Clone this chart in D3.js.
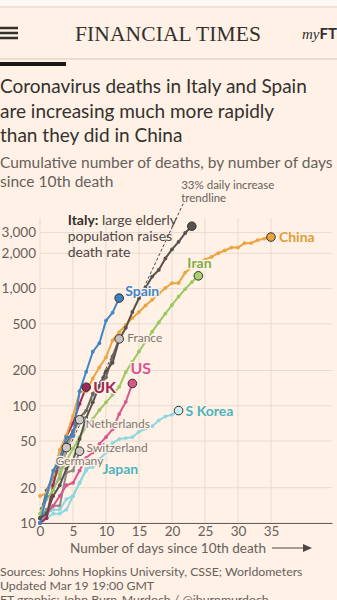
<!DOCTYPE html>
<html>
<head>
<meta charset="utf-8">
<script src="https://cdn.jsdelivr.net/npm/d3@7"></script>
<style>
  html, body { margin: 0; padding: 0; background: #fff1e5; }
  svg { display: block; }
</style>
</head>
<body>
<svg id="chart" width="337" height="600"></svg>
<script>
// Cumulative deaths, indexed by days since 10th death
const italyDeaths = [11, 12, 17, 21, 29, 34, 52, 79, 107, 148, 197, 233, 366, 463, 631, 827, 1016, 1266, 1441, 1809, 2158, 2503, 2978, 3405];
const spainDeaths = [10, 17, 28, 35, 54, 55, 133, 195, 289, 342, 533, 623, 830];
const chinaDeaths = [17, 18, 26, 42, 56, 82, 131, 133, 171, 213, 259, 361, 425, 490, 562, 632, 717, 804, 904, 1011, 1111, 1116, 1368, 1520, 1662, 1765, 1863, 2002, 2114, 2236, 2236, 2441, 2443, 2593, 2663, 2750];
const iranDeaths = [12, 16, 19, 26, 34, 43, 54, 66, 77, 92, 107, 124, 145, 194, 237, 291, 354, 429, 514, 611, 724, 853, 988, 1135, 1284];
const franceDeaths = [11, 19, 25, 33, 48, 61, 79, 91, 127, 148, 175, 264, 372];
const ukDeaths = [10, 11, 21, 35, 55, 71, 104, 144];
const usDeaths = [11, 12, 14, 17, 21, 22, 28, 36, 40, 47, 54, 63, 85, 108, 155];
const skoreaDeaths = [11, 12, 13, 13, 16, 17, 22, 28, 32, 35, 40, 48, 52, 53, 54, 60, 64, 67, 75, 81, 84, 91];
const japanDeaths = [10, 11, 12, 12, 13, 17, 22, 29, 30, 33];
const netherlandsDeaths = [10, 12, 20, 24, 43, 58, 76];
const switzerlandDeaths = [11, 13, 14, 14, 27, 28, 41];
const germanyDeaths = [11, 17, 24, 28, 44];

// 33% daily increase trendline, start and end
const trendDays = [0, 21.7];
const trendValues = [13, 5300];

const xTicks = [0, 5, 10, 15, 20, 25, 30, 35];
const yTicks = [10, 20, 50, 100, 200, 500, 1000, 2000, 3000];

const series = [
	{ name: "Germany", values: germanyDeaths, line: "#bcb5af", dot: "#cfc9c3", label: "#7d7772", dx: -11, dy: 17, size: 12, bold: false },
	{ name: "Switzerland", values: switzerlandDeaths, line: "#8f8984", dot: "#cfc9c3", label: "#7d7772", dx: 7, dy: 1, size: 12, bold: false },
	{ name: "Netherlands", values: netherlandsDeaths, line: "#a59f9a", dot: "#cfc9c3", label: "#7d7772", dx: 6, dy: 8, size: 12, bold: false },
	{ name: "Japan", values: japanDeaths, line: "#8fd6e0", dot: null, label: "#4db3bf", dx: 3, dy: 12, size: 14, bold: true },
	{ name: "S Korea", values: skoreaDeaths, line: "#8fd6e0", dot: "#cdeef2", label: "#4db3bf", dx: 7, dy: 5, size: 14, bold: true },
	{ name: "US", values: usDeaths, line: "#d9558d", dot: "#d9558d", label: "#d9558d", dx: -2, dy: -9, size: 16, bold: true },
	{ name: "UK", values: ukDeaths, line: "#a0285a", dot: "#a0285a", label: "#9e2656", dx: 7, dy: 6, size: 16, bold: true },
	{ name: "France", values: franceDeaths, line: "#6f6964", dot: "#c8c2bc", label: "#7d7772", dx: 8, dy: 3, size: 12, bold: false },
	{ name: "Iran", values: iranDeaths, line: "#9bc95f", dot: "#a9d173", label: "#7fae46", dx: -11, dy: -8, size: 14, bold: true },
	{ name: "China", values: chinaDeaths, line: "#eba440", dot: "#eba440", label: "#e09c35", dx: 8, dy: 5, size: 14, bold: true },
	{ name: "Spain", values: spainDeaths, line: "#3f86c9", dot: "#3f80c2", label: "#3f86c9", dx: 6, dy: -2, size: 14, bold: true },
	{ name: "Italy", values: italyDeaths, line: "#57524e", dot: "#57524e", label: null, dx: 0, dy: 0, size: 13, bold: true },
];

const font = "Lato, 'Open Sans', sans-serif";
const svg = d3.select("#chart");

// Header
svg.append("rect").attr("width", 337).attr("height", 7).attr("fill", "#fdf8f4");
svg.append("rect").attr("y", 7).attr("width", 337).attr("height", 52).attr("fill", "#fff1e5");
svg.append("line").attr("x1", 0).attr("x2", 337).attr("y1", 7).attr("y2", 7).attr("stroke", "#ddd3ca");
svg.append("rect").attr("y", 58).attr("width", 337).attr("height", 2).attr("fill", "#e8ddd3");
[28, 33, 38].forEach((y) => {
	svg.append("rect").attr("x", 0).attr("y", y - 1.25).attr("width", 18).attr("height", 2.5).attr("fill", "#33302e");
});
svg.append("text")
	.attr("x", 168).attr("y", 41)
	.attr("text-anchor", "middle")
	.attr("font-family", "'Liberation Serif', 'DejaVu Serif', serif")
	.attr("font-size", 21.5)
	.attr("textLength", 186)
	.attr("fill", "#33302e")
	.text("FINANCIAL TIMES");
const myft = svg.append("text").attr("x", 302).attr("y", 39).attr("fill", "#33302e");
myft.append("tspan").attr("font-family", "'Liberation Serif', serif").attr("font-style", "italic").attr("font-size", 15).text("my");
myft.append("tspan").attr("font-family", font).attr("font-weight", "bold").attr("font-size", 15).text("FT");

svg.append("rect").attr("x", 0).attr("y", 62).attr("width", 66).attr("height", 4).attr("fill", "#1a1817");

// Titles
const title = ["Coronavirus deaths in Italy and Spain", "are increasing much more rapidly", "than they did in China"];
title.forEach((t, i) => {
	svg.append("text")
		.attr("x", 0).attr("y", 93 + i * 24.5)
		.attr("font-family", font).attr("font-size", 19)
		.attr("fill", "#33302e")
		.text(t);
});
const subtitle = ["Cumulative number of deaths, by number of days", "since 10th death"];
subtitle.forEach((t, i) => {
	svg.append("text")
		.attr("x", 0).attr("y", 168 + i * 18.5)
		.attr("font-family", font).attr("font-size", 15.5)
		.attr("fill", "#66605c")
		.text(t);
});

// Scales
const xScale = d3.scaleLinear().domain([0, 44.25]).range([40, 332]);
const yScale = d3.scaleLog().domain([10, 4000]).range([523, 218]);

// Grid
const grid = svg.append("g").attr("stroke", "#e7dbd0").attr("stroke-width", 1);
grid.selectAll(".vx")
	.data(xTicks)
	.enter()
	.append("line")
	.attr("x1", (d) => xScale(d)).attr("x2", (d) => xScale(d))
	.attr("y1", yScale(4000)).attr("y2", yScale(10));
grid.selectAll(".hy")
	.data(yTicks)
	.enter()
	.append("line")
	.attr("x1", xScale(0)).attr("x2", xScale(44.25))
	.attr("y1", (d) => yScale(d)).attr("y2", (d) => yScale(d));

// Axes
const yAxis = svg.append("g")
	.attr("transform", `translate(${xScale(0) - 4}, 0)`)
	.call(d3.axisLeft(yScale).tickValues(yTicks).tickFormat(d3.format(",")).tickSize(0).tickPadding(0));
yAxis.select(".domain").remove();
yAxis.selectAll("text")
	.attr("font-family", font).attr("font-size", 13.5)
	.attr("fill", "#66605c");

const xAxis = svg.append("g")
	.attr("transform", `translate(0, ${yScale(10)})`)
	.call(d3.axisBottom(xScale).tickValues(xTicks).tickSize(0).tickPadding(3));
xAxis.select(".domain").attr("stroke", "#66605c").attr("stroke-width", 1);
xAxis.selectAll("text")
	.attr("font-family", font).attr("font-size", 13.5)
	.attr("fill", "#66605c");

svg.append("text")
	.attr("x", 70).attr("y", 553)
	.attr("font-family", font).attr("font-size", 13.5)
	.attr("fill", "#66605c")
	.text("Number of days since 10th death");
svg.append("line")
	.attr("x1", 272).attr("x2", 305).attr("y1", 548).attr("y2", 548)
	.attr("stroke", "#4d4845").attr("stroke-width", 1);
svg.append("path")
	.attr("d", "M303,544 L312,548 L303,552 Z")
	.attr("fill", "#4d4845");

// Italy annotation
const note = svg.append("g").attr("font-family", font).attr("font-size", 14).attr("fill", "#4d4845");
const nx = xScale(4.2);
const n1 = note.append("text").attr("x", nx).attr("y", yScale(3000) - 8);
n1.append("tspan").attr("font-weight", "bold").attr("fill", "#33302e").text("Italy:");
n1.append("tspan").text(" large elderly");
note.append("text").attr("x", nx).attr("y", yScale(3000) + 8).text("population raises");
note.append("text").attr("x", nx).attr("y", yScale(3000) + 24).text("death rate");

// Trendline
const line = d3.line()
	.x((d) => xScale(d[0]))
	.y((d) => yScale(d[1]));
svg.append("path")
	.datum(trendDays.map((d, i) => [d, trendValues[i]]))
	.attr("d", line)
	.attr("fill", "none")
	.attr("stroke", "#4d4845")
	.attr("stroke-width", 1)
	.attr("stroke-dasharray", "3,2");
svg.append("text")
	.attr("x", xScale(21.4)).attr("y", 189)
	.attr("font-family", font).attr("font-size", 11.5)
	.attr("fill", "#66605c")
	.text("33% daily increase");
svg.append("text")
	.attr("x", xScale(21.4)).attr("y", 202)
	.attr("font-family", font).attr("font-size", 11.5)
	.attr("fill", "#66605c")
	.text("trendline");

// Data lines
series.forEach((s) => {
	const pts = s.values.map((v, i) => [i, v]);
	const g = svg.append("g");
	g.append("path")
		.datum(pts)
		.attr("d", line)
		.attr("fill", "none")
		.attr("stroke", s.line)
		.attr("stroke-width", 2)
		.attr("stroke-linejoin", "round");
	g.selectAll("circle.pt")
		.data(pts)
		.enter()
		.append("circle")
		.attr("cx", (d) => xScale(d[0]))
		.attr("cy", (d) => yScale(d[1]))
		.attr("r", 1.9)
		.attr("fill", s.line);
});

// End dots and labels (drawn on top)
series.forEach((s) => {
	const last = s.values.length - 1;
	const cx = xScale(last);
	const cy = yScale(s.values[last]);
	if (s.dot) {
		svg.append("circle")
			.attr("cx", cx).attr("cy", cy).attr("r", 4.3)
			.attr("fill", s.dot)
			.attr("stroke", "#33302e").attr("stroke-width", 1);
	}
	if (s.label) {
		svg.append("text")
			.attr("x", cx + s.dx).attr("y", cy + s.dy)
			.attr("font-family", font)
			.attr("font-size", s.size)
			.attr("font-weight", s.bold ? "bold" : "normal")
			.attr("fill", s.label)
			.attr("stroke", "#fff1e5").attr("stroke-width", 2.5)
			.attr("paint-order", "stroke")
			.text(s.name);
	}
});

// Source
const sources = ["Sources: Johns Hopkins University, CSSE; Worldometers", "Updated Mar 19 19:00 GMT", "FT graphic: John Burn-Murdoch / @jburnmurdoch"];
sources.forEach((t, i) => {
	svg.append("text")
		.attr("x", 0).attr("y", 576 + i * 14)
		.attr("font-family", font).attr("font-size", 12.3)
		.attr("fill", "#66605c")
		.text(t);
});
</script>
</body>
</html>
